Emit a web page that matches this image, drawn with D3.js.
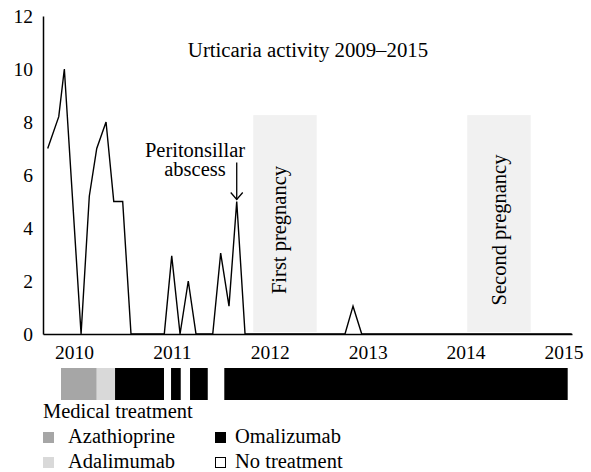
<!DOCTYPE html>
<html><head><meta charset="utf-8">
<script src="https://cdn.jsdelivr.net/npm/d3@7"></script>
</head><body style="margin:0;background:#fff">
<svg id="c" width="591" height="472" style="display:block"></svg>
<script>
// ---- data ----
const activityYears  = [2009.731, 2009.844, 2009.901, 2010.072, 2010.156, 2010.232, 2010.327, 2010.406, 2010.497, 2010.582,
                        2010.922, 2010.998, 2011.083, 2011.167, 2011.246, 2011.417, 2011.498, 2011.583, 2011.662, 2011.747,
                        2012.768, 2012.850, 2012.939, 2015.084];
const activityValues = [7, 8.2, 10, 0, 5.2, 7, 8, 5, 5, 0,
                        0, 2.95, 0, 2, 0, 0, 3.05, 1.05, 5, 0,
                        0, 1.05, 0, 0];
const yTicks = [0, 2, 4, 6, 8, 10, 12];
const xTicks = [2010, 2011, 2012, 2013, 2014, 2015];
const titleText = "Urticaria activity 2009\u20132015";

const pregnancyLabels = ["First pregnancy", "Second pregnancy"];
const pregnancyStart  = [2011.831, 2014.017];
const pregnancyEnd    = [2012.479, 2014.665];
const pregnancyTop    = 8.26;

const treatmentType  = ["Azathioprine", "Adalimumab", "Omalizumab", "Omalizumab", "Omalizumab", "Omalizumab"];
const treatmentStart = [2009.867, 2010.232, 2010.419, 2010.991, 2011.185, 2011.535];
const treatmentEnd   = [2010.232, 2010.419, 2010.919, 2011.090, 2011.366, 2015.043];
const legendTitle = "Medical treatment";
const legendNames = ["Azathioprine", "Adalimumab", "Omalizumab", "No treatment"];

const eventLabel = ["Peritonsillar", "abscess"];
const eventYear = 2011.662, eventValue = 5;

// ---- styles ----
const FONT = "Liberation Serif";
const treatmentColor = {"Azathioprine":"#a6a6a6","Adalimumab":"#d9d9d9","Omalizumab":"#000000","No treatment":"#ffffff"};

// ---- scales ----
const svg = d3.select("#c");
const x = d3.scaleLinear().domain([2009.683, 2015.087]).range([43, 572]);
const y = d3.scaleLinear().domain([0, 12]).range([334, 16]);

function styleText(sel, size) {
  return sel.attr("font-family", FONT).attr("font-size", size).style("font-family", `"${FONT}"`).attr("fill", "#000");
}
function txt(g, size) { return styleText(g.append("text"), size); }

// pregnancy shading
const preg = svg.append("g");
pregnancyLabels.forEach((lab, i) => {
  preg.append("rect")
    .attr("x", x(pregnancyStart[i])).attr("width", x(pregnancyEnd[i]) - x(pregnancyStart[i]))
    .attr("y", y(pregnancyTop)).attr("height", y(0) - 2 - y(pregnancyTop))
    .attr("fill", "#f1f1f1");
});
const labelOffsets = [33, 39];
pregnancyLabels.forEach((lab, i) => {
  const cx = x(pregnancyStart[i]) + labelOffsets[i];
  txt(preg, 20.5)
    .attr("transform", `translate(${cx},230) rotate(-90)`)
    .attr("text-anchor", "middle")
    .text(lab);
});

// axes
const yAxis = svg.append("g").attr("transform", `translate(${x.range()[0]},0)`)
  .call(d3.axisLeft(y).tickValues(yTicks).tickSize(0).tickSizeOuter(0).tickPadding(10));
const xAxis = svg.append("g").attr("transform", `translate(0,${y(0)})`)
  .call(d3.axisBottom(x).tickValues(xTicks).tickSize(0).tickSizeOuter(0).tickPadding(11).tickFormat(d3.format("d")));
[yAxis, xAxis].forEach(g => {
  g.attr("font-family", FONT).attr("font-size", 19.5);
  g.select(".domain").attr("stroke", "#000").attr("stroke-width", 1.5);
  styleText(g.selectAll("text"), 19.5);
});

// activity line
const pts = activityYears.map((d, i) => [d, activityValues[i]]);
svg.append("path").datum(pts)
  .attr("fill", "none").attr("stroke", "#000").attr("stroke-width", 1.4).attr("stroke-linejoin", "miter")
  .attr("d", d3.line().x(d => x(d[0])).y(d => y(d[1])));

// title
txt(svg, 20.8).attr("x", 308).attr("y", 57).attr("text-anchor", "middle").text(titleText);

// event annotation
const ex = x(eventYear), tip = y(eventValue) - 2;
eventLabel.forEach((t, i) => {
  txt(svg, 20.5).attr("x", 195).attr("y", 157 + i * 18.5).attr("text-anchor", "middle").text(t);
});
svg.append("line").attr("x1", ex).attr("x2", ex).attr("y1", tip - 37).attr("y2", tip).attr("stroke", "#000").attr("stroke-width", 1.3);
svg.append("path").attr("d", `M${ex - 6},${tip - 7}L${ex},${tip}L${ex + 6},${tip - 7}`)
  .attr("fill", "none").attr("stroke", "#000").attr("stroke-width", 1.3);

// treatment bar
const tg = svg.append("g");
treatmentType.forEach((t, i) => {
  tg.append("rect")
    .attr("x", x(treatmentStart[i])).attr("width", x(treatmentEnd[i]) - x(treatmentStart[i]))
    .attr("y", 368).attr("height", 32)
    .attr("fill", treatmentColor[t]);
});

// legend
const lg = svg.append("g");
txt(lg, 20.5).attr("x", 43).attr("y", 418).text(legendTitle);
legendNames.forEach((n, i) => {
  const col = Math.floor(i / 2), row = i % 2;
  const sx = 43 + col * 172, sy = 432 + row * 25;
  const hollow = n === "No treatment";
  lg.append("rect").attr("x", sx + (hollow ? 0.5 : 0)).attr("y", sy + (hollow ? 0.5 : 0))
    .attr("width", hollow ? 10 : 11).attr("height", hollow ? 10 : 11)
    .attr("fill", treatmentColor[n])
    .attr("stroke", hollow ? "#000" : "none").attr("stroke-width", 1);
  txt(lg, 20.5).attr("x", sx + (col === 0 ? 25 : 20)).attr("y", sy + 11).text(n);
});
</script>
</body></html>
